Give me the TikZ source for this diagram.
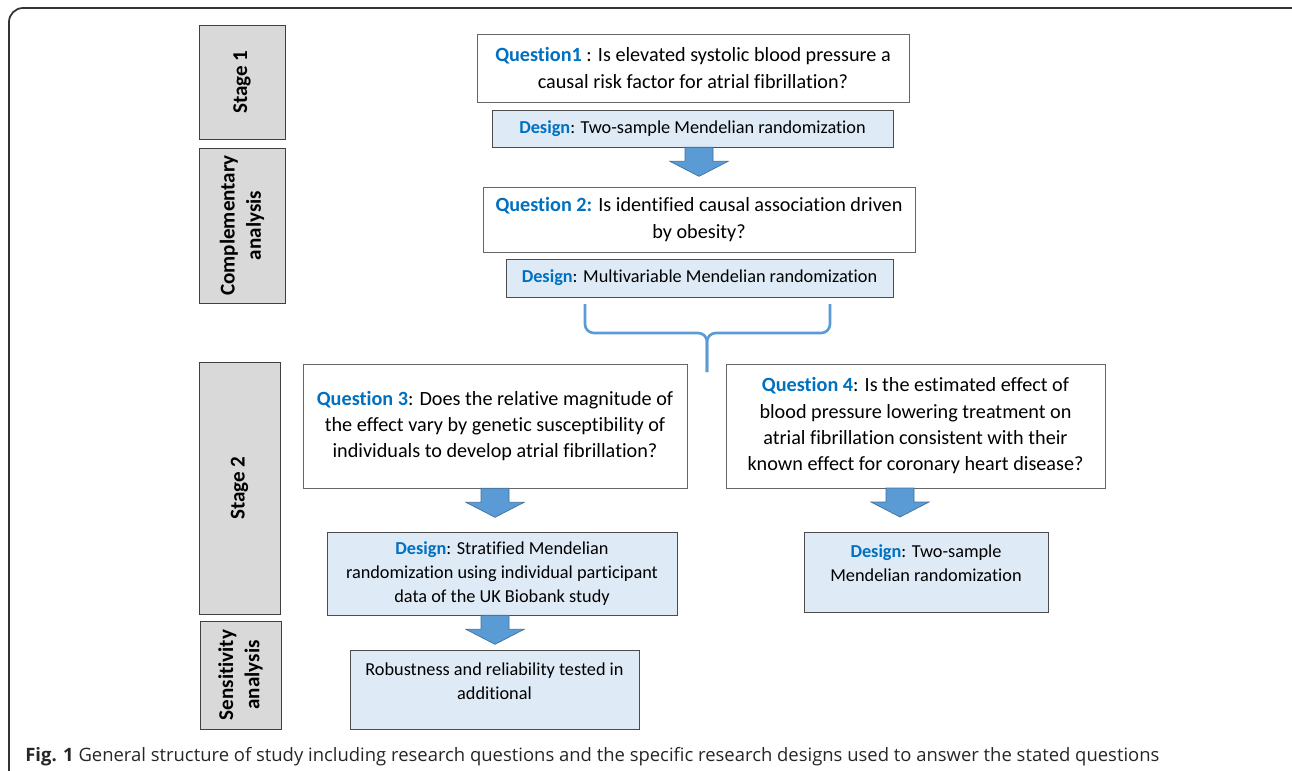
\documentclass[tikz,border=0pt]{standalone}
\usepackage{fontspec}
\setmainfont{Carlito}[Ligatures={NoCommon,NoContextual}]
\newfontfamily\capfont{Open Sans}
\usetikzlibrary{positioning}

\definecolor{qblue}{HTML}{0070C0}
\definecolor{arrowfill}{HTML}{5B9BD5}
\definecolor{arrowline}{HTML}{41719C}
\definecolor{designfill}{HTML}{DEEAF6}
\definecolor{stagefill}{HTML}{D9D9D9}

\newcommand{\qlabel}[1]{\textcolor{qblue}{\bfseries #1}}
% block arrow pointing down, #1 = top centre
\newcommand{\bluearrow}[1]{\filldraw[arrowbox] (#1) ++(-14,0) -- ++(28,0) -- ++(0,14) -- ++(15,0) -- ++(-29,15) -- ++(-29,-15) -- ++(15,0) -- cycle;}

\begin{document}
\begin{tikzpicture}[x=0.02cm,y=-0.02cm,
	stagebox/.style={draw=black!75,fill=stagefill,rotate=90,inner sep=0pt,align=center,font=\bfseries\fontsize{12}{15}\selectfont},
	qbox/.style={draw=black!60,fill=white,inner sep=0pt,align=center,font=\fontsize{11.5}{15}\selectfont},
	dbox/.style={draw=black!70,fill=designfill,inner sep=0pt,align=center,font=\fontsize{10.4}{13.6}\selectfont},
	arrowbox/.style={fill=arrowfill,draw=arrowline,line width=0.4pt},
	brace/.style={draw=arrowfill,line width=1.5pt,rounded corners=5pt}]

\useasboundingbox (0,0) rectangle (1292,771);
\clip (0,0) rectangle (1292,771);
\draw[black!80,line width=1pt,rounded corners=8pt] (9,8) rectangle (1320,800);

% stages
\node[stagebox,minimum width=2.28cm,minimum height=1.72cm] (stage1) at (242,82) {Stage 1};
\node[stagebox,minimum width=3.10cm,minimum height=1.72cm] (compl) at (242,225.5) {Complementary\\analysis};
\node[stagebox,minimum width=5.04cm,minimum height=1.62cm] (stage2) at (239.5,488) {Stage 2};
\node[stagebox,minimum width=2.16cm,minimum height=1.62cm] (sens) at (240.5,675) {Sensitivity\\analysis};

% questions and designs
\node[qbox,minimum width=8.64cm,minimum height=1.36cm] (q1) at (693,68)
	{\qlabel{Question1} : Is elevated systolic blood pressure a\\causal risk factor for atrial fibrillation?};
\node[dbox,minimum width=8.02cm,minimum height=0.74cm] (d1) at (692.5,128.5)
	{\qlabel{Design}: Two-sample Mendelian randomization};
\node[qbox,minimum width=8.64cm,minimum height=1.30cm] (q2) at (699,219.5)
	{\qlabel{Question 2:} Is identified causal association driven\\by obesity?};
\node[dbox,minimum width=7.74cm,minimum height=0.76cm] (d2) at (699.5,278)
	{\qlabel{Design}: Multivariable Mendelian randomization};
\node[qbox,minimum width=7.68cm,minimum height=2.48cm] (q3) at (495,426)
	{\qlabel{Question 3}: Does the relative magnitude of\\the effect vary by genetic susceptibility of\\individuals to develop atrial fibrillation?};
\node[dbox,minimum width=7.00cm,minimum height=1.66cm] (d3) at (502,573.5)
	{\qlabel{Design}: Stratified Mendelian\\randomization using individual participant\\data of the UK Biobank study};
\node[dbox,minimum width=5.78cm,minimum height=1.58cm] (rob) at (494.5,689.5) {};
\node[dbox,draw=none,fill=none,anchor=north] (robtext) at ([yshift=-0.26cm]rob.north)
	{Robustness and reliability tested in\\additional};
\node[qbox,minimum width=7.58cm,minimum height=2.48cm] (q4) at (915.5,426)
	{\qlabel{Question 4}: Is the estimated effect of\\blood pressure lowering treatment on\\atrial fibrillation consistent with their\\known effect for coronary heart disease?};
\node[dbox,minimum width=4.88cm,minimum height=1.60cm] (d4) at (926,572) {};
\node[dbox,draw=none,fill=none,anchor=north] (d4text) at ([yshift=-0.26cm]d4.north)
	{\qlabel{Design}: Two-sample\\Mendelian randomization};

% arrows
\coordinate (a1) at (q2.north |- d1.south);
\coordinate (a2) at (q3.south);
\coordinate (a3) at (q3.south |- d3.south);
\coordinate (a4) at (900,488);
\bluearrow{a1}
\bluearrow{a2}
\bluearrow{a3}
\bluearrow{a4}

% brace
\coordinate (bl) at (585,304);
\coordinate (br) at (830,304);
\coordinate (btip) at (707,372);
\draw[brace] (bl) |- (btip |- 0,333) -- (btip);
\draw[brace] (br) |- (btip |- 0,333) -- (btip);

\node[anchor=base west,inner sep=0pt,text=black!85,font=\capfont\fontsize{10.5}{12}\selectfont] (caption) at (25,761)
	{\textbf{Fig. 1} General structure of study including research questions and the specific research designs used to answer the stated questions};

\end{tikzpicture}
\end{document}
